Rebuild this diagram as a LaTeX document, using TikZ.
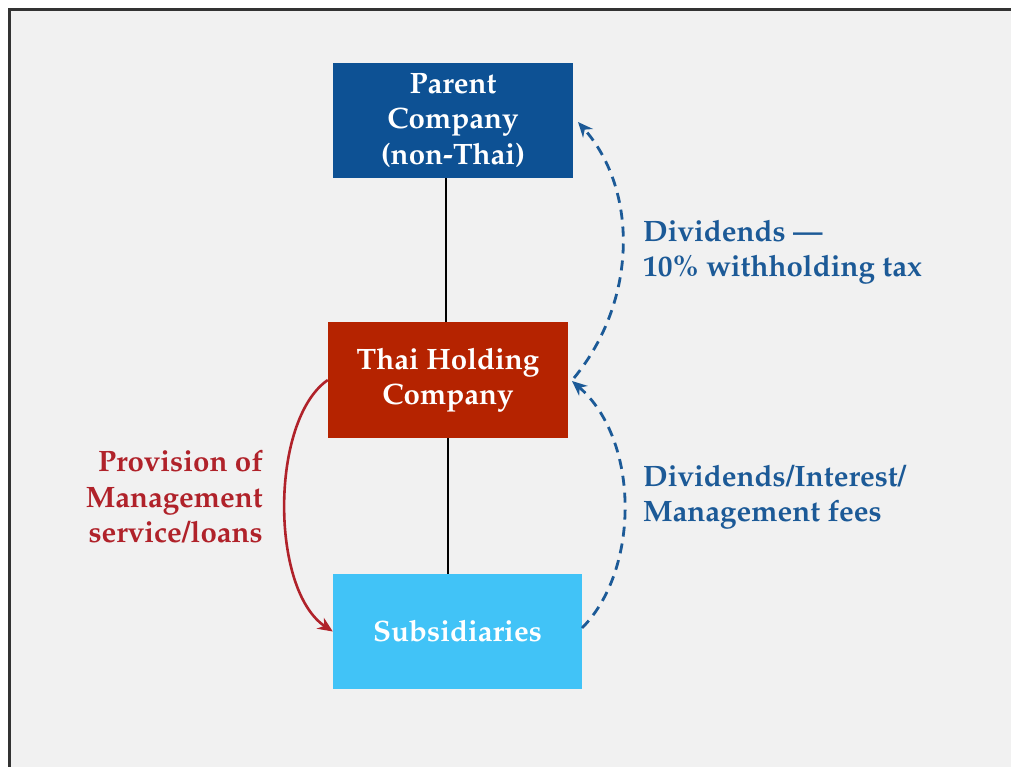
\documentclass[tikz,border=0pt]{standalone}
\usepackage[T1]{fontenc}
\usepackage{mathpazo}
\usetikzlibrary{arrows.meta}
\definecolor{pblue}{HTML}{0D5194}
\definecolor{tred}{HTML}{B52300}
\definecolor{sblue}{HTML}{41C3F7}
\definecolor{lblue}{HTML}{1C5A97}
\definecolor{lred}{HTML}{B0222A}
\definecolor{bg}{HTML}{F1F1F1}
\definecolor{frame}{HTML}{333333}
\tikzset{
  box/.style={rectangle, inner sep=0pt, align=center, text=white,
    font=\fontsize{29.5}{35.5}\selectfont\bfseries},
  lbl/.style={inner sep=0pt, font=\fontsize{29.5}{35.5}\selectfont\bfseries},
  flow/.style={lblue, line width=2.8pt, dash pattern=on 10pt off 7pt,
    -{Stealth[length=15pt,width=13pt]}},
  prov/.style={lred, line width=2.6pt, -{Stealth[length=15pt,width=13pt]}},
  link/.style={black, line width=2.4pt}
}
\begin{document}
\begin{tikzpicture}[x=1pt,y=-1pt]
\useasboundingbox (0,0) rectangle (1011,767);
\fill[white] (-5,-5) rectangle (1020,780);
\fill[bg] (9,10) rectangle (1020,780);
\draw[frame, line width=3pt] (9,780) -- (9,10) -- (1020,10);

\node[box, fill=pblue, minimum width=240pt, minimum height=115pt] (parent) at (453,120.5) {Parent\\Company\\(non-Thai)};
\node[box, fill=tred, minimum width=240pt, minimum height=116pt] (thai) at (448,380) {Thai Holding\\Company};
\node[box, fill=sblue, minimum width=249pt, minimum height=115pt] (subs) at (457.5,631.5) {Subsidiaries};

\draw[link] ([xshift=-2pt]thai.north |- parent.south) -- ([xshift=-2pt]thai.north);
\draw[link] (thai.south) -- (thai.south |- subs.north);

\coordinate (a1s) at (574,378);
\coordinate (a1e) at (578,122);
\draw[flow] (a1s) .. controls (638,300) and (638,190) .. (a1e);
\coordinate (a2s) at (582,628);
\coordinate (a2e) at (572,381);
\draw[flow] (a2s) .. controls (640,570) and (640,440) .. (a2e);
\draw[prov] (thai.west) .. controls (270,420) and (270,590) .. (subs.west);

\node[lbl, text=lblue, anchor=west, align=left] (l1) at (643,252) {Dividends ---\\10\% withholding tax};
\node[lbl, text=lblue, anchor=west, align=left] (l2) at (643,497) {Dividends/Interest/\\Management fees};
\node[lbl, text=lred, anchor=east, align=right] (l3) at (263,497) {Provision of\\Management\\service/loans};
\end{tikzpicture}
\end{document}
